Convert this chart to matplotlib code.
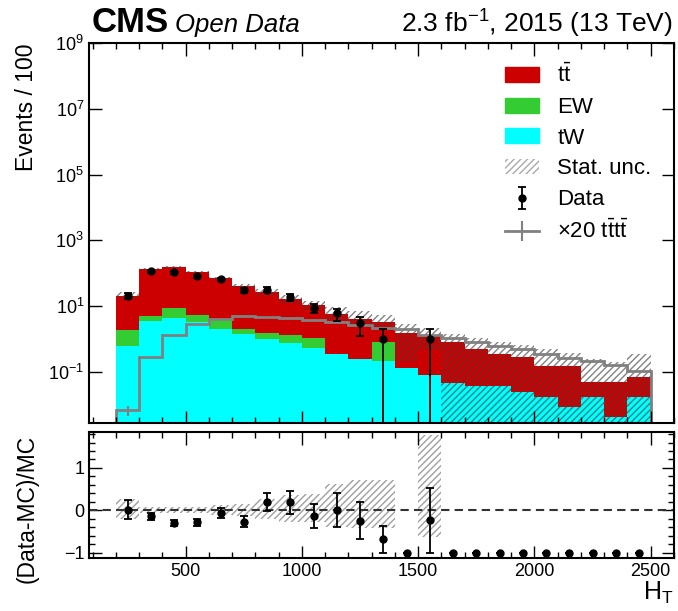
import numpy as np
import matplotlib.pyplot as plt
from matplotlib.patches import Patch
from matplotlib.lines import Line2D
from matplotlib.legend_handler import HandlerTuple
from matplotlib.ticker import MultipleLocator, FixedLocator, NullLocator

plt.rcParams['font.family'] = ['Liberation Sans', 'DejaVu Sans']
plt.rcParams['mathtext.fontset'] = 'custom'
plt.rcParams['mathtext.rm'] = 'Liberation Sans'
plt.rcParams['mathtext.it'] = 'Liberation Sans:italic'
plt.rcParams['mathtext.bf'] = 'Liberation Sans:bold'
plt.rcParams['hatch.linewidth'] = 1.0

# ---- data, bins of 100 GeV in H_T ----
ht_edges = [200, 300, 400, 500, 600, 700, 800, 900, 1000, 1100, 1200, 1300,
            1400, 1500, 1600, 1700, 1800, 1900, 2000, 2100, 2200, 2300, 2400, 2500]
tt = [18.9, 130, 146, 107, 66, 39, 25.4, 14.7, 9.4, 5.6, 3.75, 2.4,
      1.44, 1.22, 0.77, 0.47, 0.32, 0.255, 0.133, 0.142, 0.032, 0.045, 0.052]
ew = [1.22, 1.4, 4.6, 2.2, 2.1, 0.55, 0.58, 0.58, 0.58, 0, 0, 0.6,
      0, 0, 0, 0, 0, 0, 0, 0, 0, 0, 0]
tw = [0.63, 3.6, 4.3, 3.2, 2.0, 1.45, 0.98, 0.74, 0.52, 0.36, 0.25, 0.21,
      0.13, 0.083, 0.045, 0.037, 0.037, 0.025, 0.017, 0.0083, 0.017, 0.0042, 0.017]
data = [21, 115, 107, 80, 66, 30, 32, 19, 9, 6, 3, 1,
        0, 1, 0, 0, 0, 0, 0, 0, 0, 0, 0]
tttt20 = [0.007, 0.28, 1.3, 2.9, 4.2, 4.9, 4.8, 4.5, 3.8, 3.4, 2.6, 2.24,
          1.98, 1.35, 1.07, 0.81, 0.61, 0.51, 0.34, 0.26, 0.21, 0.16, 0.11]
tttt20_err = [0.0025, 0, 0, 0, 0, 0, 0, 0, 0, 0, 0, 0,
              0, 0, 0, 0, 0, 0, 0, 0, 0, 0, 0]
# stat. unc. band in the main panel (upper / lower edge)
unc_hi = [26.2, 146, 166, 121, 78, 47, 34, 22, 14.5, 9.7, 6.9, 5.5,
          2.9, 2.2, 1.4, 1.1, 0.8, 0.64, 0.5, 0.37, 0.25, 0.2, 0.34]
unc_lo = [16.5, 125, 145, 104, 62, 36, 21, 11.8, 7.6, 3.7, 2.3, 1.9,
          0.2, 0.47, 1e-4, 1e-4, 1e-4, 1e-4, 1e-4, 1e-4, 1e-4, 1e-4, 1e-4]
# stat. unc. band in the ratio panel
band_up = [0.26, 0.08, 0.07, 0.08, 0.12, 0.15, 0.26, 0.36, 0.38, 0.62, 0.72, 0.72,
           np.nan, 1.77, np.nan, np.nan, np.nan, np.nan, np.nan, np.nan, np.nan, np.nan, np.nan]
band_dn = [0.21, 0.07, 0.07, 0.07, 0.11, 0.13, 0.21, 0.27, 0.28, 0.39, 0.42, 0.42,
           np.nan, 0.64, np.nan, np.nan, np.nan, np.nan, np.nan, np.nan, np.nan, np.nan, np.nan]

edges = np.array(ht_edges, dtype=float)
centers = 0.5 * (edges[:-1] + edges[1:])
width = np.diff(edges)
tt, ew, tw = np.array(tt), np.array(ew), np.array(tw)
data = np.array(data, dtype=float)
green_top = tw + ew
total = green_top + tt

c_tt = '#cc0000'
c_ew = '#33cc33'
c_tw = '#00ffff'
c_4t = '#808080'
base = 1e-4

fig = plt.figure(figsize=(6.78, 6.11), dpi=100)
ax = fig.add_axes([0.1313, 0.3077, 0.8628, 0.6219])
axr = fig.add_axes([0.1313, 0.0867, 0.8628, 0.2063])

# ---- main panel ----
ax.stairs(total, edges, baseline=base, fill=True, color=c_tt, lw=0)
ax.stairs(green_top, edges, baseline=base, fill=True, color=c_ew, lw=0)
ax.stairs(tw, edges, baseline=base, fill=True, color=c_tw, lw=0)
hi = np.array(unc_hi)
lo = np.array(unc_lo)
ax.bar(centers, hi - lo, bottom=lo, width=width, facecolor='none',
       edgecolor=(0.25, 0.25, 0.25, 0.65), hatch='/////', lw=0)
ax.stairs(tttt20, edges, baseline=base, color=c_4t, lw=2)
ax.errorbar(centers, tttt20, yerr=tttt20_err, fmt='none', ecolor=c_4t, elinewidth=1.5)
m = data > 0
h_data = ax.errorbar(centers[m], data[m], yerr=np.sqrt(data[m]), fmt='o', color='k',
                     ms=5, elinewidth=1.3, capsize=3, capthick=1.3)

ax.set_yscale('log')
ax.set_xlim(84, 2600)
ax.set_ylim(2.8e-3, 1e9)
ax.yaxis.set_major_locator(FixedLocator([1e-1, 1e1, 1e3, 1e5, 1e7, 1e9]))
ax.yaxis.set_minor_locator(NullLocator())
ax.xaxis.set_major_locator(MultipleLocator(500))
ax.xaxis.set_minor_locator(MultipleLocator(100))
ax.tick_params(labelbottom=False)
ax.set_ylabel('Events / 100', fontsize=16.5, loc='top')
ax.yaxis.set_label_coords(-0.087, 1.0)

handles = [Patch(color=c_tt), Patch(color=c_ew), Patch(color=c_tw),
           Patch(facecolor='white', edgecolor='#aaaaaa', hatch='/////', lw=0),
           h_data,
           (Line2D([], [], color=c_4t, lw=2),
            Line2D([], [], color=c_4t, marker='|', ms=14, mew=1.5, ls='none'))]
labels = [r'$\mathrm{t\bar{t}}$', 'EW', 'tW', 'Stat. unc.', 'Data',
          r'$\times$20 $\mathrm{t\bar{t}t\bar{t}}$']
ax.legend(handles, labels, loc='upper left', bbox_to_anchor=(0.711, 0.945),
          frameon=False, fontsize=16, handlelength=1.55, handleheight=0.65,
          handletextpad=0.8, labelspacing=0.44, borderpad=0, borderaxespad=0,
          handler_map={tuple: HandlerTuple(ndivide=1)})

# ---- ratio panel ----
b_up = np.array(band_up)
b_dn = np.array(band_dn)
axr.bar(centers, b_up + b_dn, bottom=-b_dn, width=width, facecolor='none',
        edgecolor='#a0a0a0', hatch='/////', lw=0)
axr.axhline(0, color='#333333', ls=(0, (4, 2.5)), lw=1.5)
ratio = data / total - 1
rerr = np.sqrt(data) / total
axr.errorbar(centers, ratio, yerr=rerr, fmt='o', color='k', ms=5,
             elinewidth=1.3, capsize=3, capthick=1.3)
axr.set_xlim(84, 2600)
axr.set_ylim(-1.13, 1.85)
axr.yaxis.set_major_locator(FixedLocator([-1, 0, 1]))
axr.yaxis.set_minor_locator(MultipleLocator(0.2))
axr.xaxis.set_major_locator(MultipleLocator(500))
axr.xaxis.set_minor_locator(MultipleLocator(100))
axr.set_xlabel(r'H$_\mathrm{T}$', fontsize=18, loc='right', labelpad=0)
axr.set_ylabel('(Data-MC)/MC', fontsize=16.5)
axr.yaxis.set_label_coords(-0.087, 0.39)

for a in (ax, axr):
    a.tick_params(which='both', direction='in', top=True, right=True, labelsize=13, width=1)
    a.tick_params(which='major', length=9)
    a.tick_params(which='minor', length=4.5)
    for s in a.spines.values():
        s.set_linewidth(1.5)

fig.text(0.1357, 0.947, 'CMS', fontsize=25, fontweight='bold', ha='left', va='baseline')
fig.text(0.258, 0.947, 'Open Data', fontsize=18.5, style='italic', ha='left', va='baseline')
fig.text(0.9926, 0.947, r'2.3 fb$^{-1}$, 2015 (13 TeV)', fontsize=19, ha='right', va='baseline')

fig.savefig('out.png', dpi=100)
